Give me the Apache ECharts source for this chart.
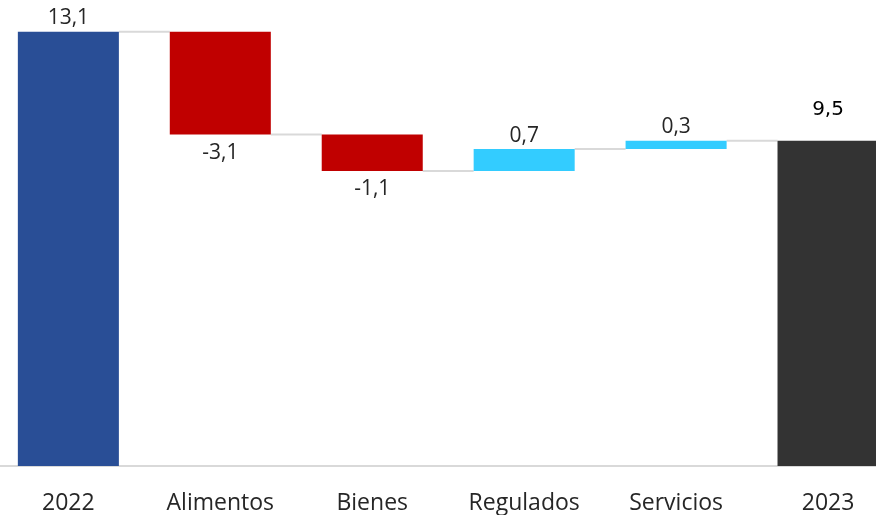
<!DOCTYPE html>
<html>
<head>
<meta charset="utf-8">
<script src="https://cdn.jsdelivr.net/npm/echarts@6/dist/echarts.min.js"></script>
<style>
html,body{margin:0;padding:0;background:#fff;overflow:hidden;width:876px;height:515px;position:relative;}
#chart{position:absolute;left:-8px;top:0;width:912px;height:515px;}
</style>
</head>
<body>
<div id="chart"></div>
<script>
// Categories and values
const categories = ['2022', 'Alimentos', 'Bienes', 'Regulados', 'Servicios', '2023'];
const startValue = 13.1;                    // 2022 total
const changes = [-3.1, -1.1, 0.66, 0.25];   // contributions (drawn heights)
const endValue = 9.81;                      // 2023 total (drawn height)
const labelTexts = ['13,1', '-3,1', '-1,1', '0,7', '0,3', '9,5'];
const barColors = ['#294E96', '#C00000', '#C00000', '#33CCFF', '#33CCFF', '#333333'];

// Build waterfall pieces
const bases = [0];
const heights = [startValue];
const levels = [startValue];
let cur = startValue;
changes.forEach(function (d) {
  const next = cur + d;
  bases.push(Math.min(cur, next));
  heights.push(Math.abs(d));
  levels.push(next);
  cur = next;
});
bases.push(0);
heights.push(endValue);
levels.push(endValue);

const GAP = 0.335;

const chart = echarts.init(document.getElementById('chart'), null, {renderer: 'canvas'});

const barData = heights.map(function (h, i) {
  const isNeg = i > 0 && i < heights.length - 1 && changes[i - 1] < 0;
  const isLast = i === heights.length - 1;
  return {
    value: h,
    itemStyle: {color: barColors[i]},
    label: {
      show: true,
      position: isNeg ? 'bottom' : 'top',
      distance: isNeg ? 8 : (isLast ? 21 : 3),
      formatter: labelTexts[i],
      fontFamily: isLast ? 'DejaVu Sans' : 'Open Sans',
      fontSize: isLast ? 20 : 21,
      color: isLast ? '#000000' : '#262626'
    }
  };
});

const connectorData = levels.slice(0, levels.length - 1).map(function (v, i) { return [i, v]; });

chart.setOption({
  animation: false,
  backgroundColor: '#ffffff',
  grid: {left: 0.4, width: 911.6, top: 1.8, bottom: 47.3, containLabel: false},
  xAxis: {
    type: 'category',
    data: categories,
    axisLine: {show: true, lineStyle: {color: '#D9D9D9', width: 2}},
    axisTick: {show: false},
    axisLabel: {
      fontFamily: 'Open Sans',
      fontSize: 23,
      color: '#262626',
      margin: 26,
      interval: 0
    }
  },
  yAxis: {
    type: 'value',
    min: 0,
    max: 14,
    show: false,
    splitLine: {show: false}
  },
  series: [
    {
      type: 'bar',
      stack: 'wf',
      data: bases,
      itemStyle: {color: 'transparent'},
      barCategoryGap: (GAP * 100) + '%',
      silent: true
    },
    {
      type: 'bar',
      stack: 'wf',
      data: barData,
      barCategoryGap: (GAP * 100) + '%'
    },
    {
      type: 'custom',
      data: connectorData,
      z: 1,
      renderItem: function (params, api) {
        const i = api.value(0);
        const v = api.value(1);
        const p1 = api.coord([i, v]);
        const p2 = api.coord([i + 1, v]);
        const bw = api.size([1, 0])[0] * (1 - GAP);
        return {
          type: 'line',
          shape: {x1: p1[0] + bw / 2, y1: p1[1], x2: p2[0] - bw / 2, y2: p2[1]},
          style: {stroke: '#D9D9D9', lineWidth: 2}
        };
      }
    }
  ]
});
</script>
</body>
</html>
